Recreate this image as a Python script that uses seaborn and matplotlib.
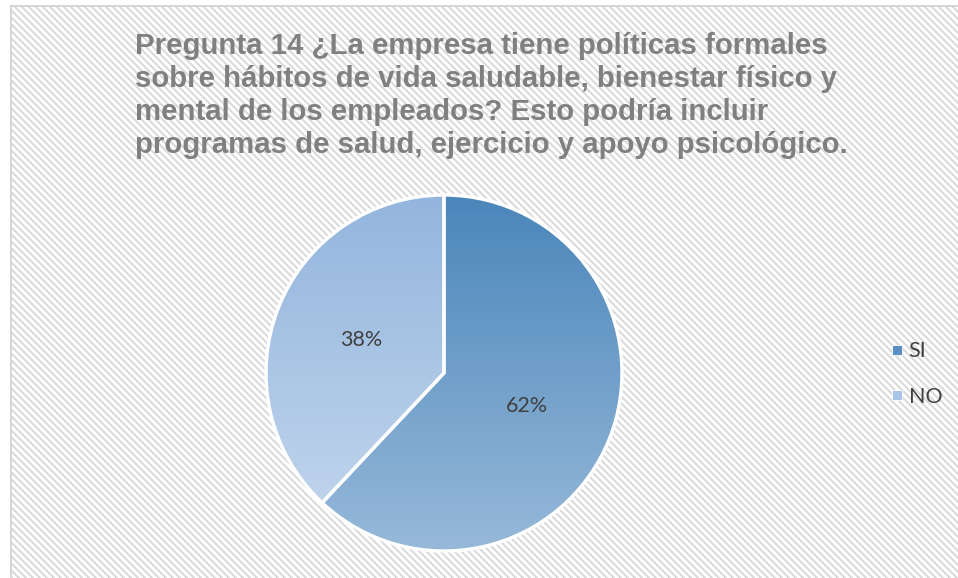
import numpy as np
import matplotlib
matplotlib.use("Agg")
import matplotlib.pyplot as plt
from matplotlib.colors import LinearSegmentedColormap
from matplotlib.lines import Line2D
import seaborn as sns

# ---- data ----
categories = ["SI", "NO"]
values = [62, 38]
title_lines = [
    "Pregunta 14 ¿La empresa tiene políticas formales",
    "sobre hábitos de vida saludable, bienestar físico y",
    "mental de los empleados? Esto podría incluir",
    "programas de salud, ejercicio y apoyo psicológico.",
]
top_colors = ["#4a86bb", "#93b5dd"]
bottom_colors = ["#97b9d9", "#c5d8ee"]
legend_colors = ["#5a8fc4", "#a9c4e6"]

sns.set_theme(style="white")
plt.rcParams["font.family"] = ["Liberation Sans", "DejaVu Sans"]

W, H = 958, 578
fig = plt.figure(figsize=(W / 100, H / 100), dpi=100)
fig.patch.set_facecolor("white")

# ---- striped background (own axes covering the figure) ----
yy, xx = np.mgrid[0:H, 0:W]
bg = np.ones((H, W, 3))
stripe = ((xx - yy) % 7) < 3
gray = np.array([0xdc, 0xdc, 0xdc]) / 255
bg[stripe] = gray
bg[:5, :] = 1.0
bg[:, :10] = 1.0
bg[5:7, 10:] = np.array([0xd6, 0xd6, 0xd6]) / 255
bg[5:, 10:12] = np.array([0xd6, 0xd6, 0xd6]) / 255
bax = fig.add_axes([0, 0, 1, 1], zorder=-10)
bax.imshow(bg, extent=[0, W, H, 0], interpolation="nearest", aspect="auto")
bax.set_xlim(0, W)
bax.set_ylim(H, 0)
bax.axis("off")

# ---- title ----
fig.text(135 / W, 1 - 32 / H, "\n".join(title_lines), ha="left", va="top",
         fontsize=21.2, fontweight="bold", color="#808080", linespacing=1.23,
         family=["Liberation Sans", "DejaVu Sans"], zorder=5)

# ---- pie ----
cx, cy, r = 444, 373, 178
ax = fig.add_axes([(cx - r) / W, (H - cy - r) / H, 2 * r / W, 2 * r / H], zorder=1)
ax.set_facecolor("none")
wedges, texts, autotexts = ax.pie(
    values, startangle=90, counterclock=False, radius=1,
    autopct="%1.0f%%", pctdistance=0.5,
    wedgeprops=dict(edgecolor="white", linewidth=2.4),
    textprops=dict(fontsize=15.5, color="#404040", family=["Lato", "DejaVu Sans"]),
)
grad = np.linspace(0, 1, 256).reshape(-1, 1)
for w, c0, c1 in zip(wedges, top_colors, bottom_colors):
    cmap = LinearSegmentedColormap.from_list("g", [c0, c1])
    im = ax.imshow(grad, extent=[-1, 1, -1, 1], cmap=cmap, origin="upper",
                   aspect="auto", zorder=1, interpolation="bilinear")
    im.set_clip_path(w)
    w.set_facecolor("none")
    w.set_zorder(2)
for t in autotexts:
    t.set_zorder(3)
ax.set_xlim(-1.0, 1.0)
ax.set_ylim(-1.0, 1.0)
ax.set_aspect("equal")
ax.axis("off")

# ---- legend ----
handles = [Line2D([0], [0], marker="s", linestyle="none", markersize=6.5,
                  markerfacecolor=c, markeredgecolor="white", markeredgewidth=0.6)
           for c in legend_colors]
fig.legend(handles, categories, loc="center left",
           bbox_to_anchor=(871 / W, 1 - 374 / H), frameon=False,
           handlelength=0.6, handletextpad=0.25, labelspacing=1.2,
           prop=dict(family=["Lato", "DejaVu Sans"], size=15.5),
           labelcolor="#404040")

fig.savefig("out.png", dpi=100, facecolor="white")
